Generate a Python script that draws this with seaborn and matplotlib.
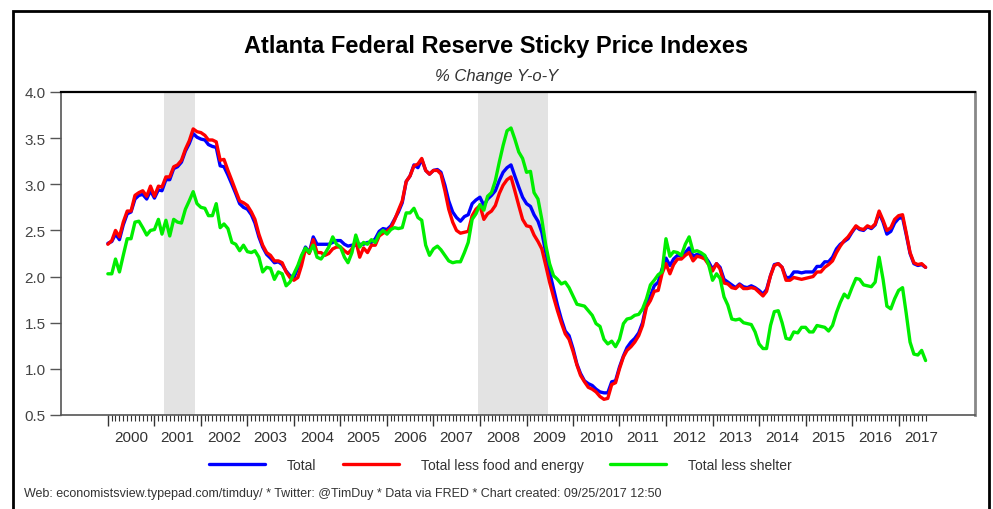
import numpy as np
import pandas as pd
import matplotlib
matplotlib.use("Agg")
import matplotlib.pyplot as plt
from matplotlib.patches import Rectangle
import seaborn as sns

# Monthly y/y % change, Jan 2000 - Aug 2017
total = [
    2.36, 2.38, 2.46, 2.40, 2.56, 2.68, 2.70, 2.84, 2.88, 2.89, 2.84, 2.93,
    2.85, 2.94, 2.93, 3.05, 3.05, 3.17, 3.19, 3.24, 3.36, 3.44, 3.55, 3.51,
    3.49, 3.48, 3.43, 3.41, 3.40, 3.20, 3.19, 3.10, 3.00, 2.90, 2.79, 2.75,
    2.73, 2.67, 2.58, 2.43, 2.32, 2.24, 2.20, 2.15, 2.16, 2.13, 2.06, 2.01,
    1.99, 2.09, 2.21, 2.32, 2.26, 2.43, 2.35, 2.35, 2.35, 2.35, 2.37, 2.39,
    2.39, 2.35, 2.33, 2.34, 2.34, 2.35, 2.35, 2.37, 2.37, 2.41, 2.49, 2.52,
    2.51, 2.55, 2.62, 2.70, 2.80, 3.03, 3.09, 3.21, 3.18, 3.27, 3.15, 3.11,
    3.15, 3.16, 3.13, 2.99, 2.82, 2.70, 2.64, 2.60, 2.65, 2.67, 2.79, 2.83,
    2.86, 2.77, 2.84, 2.88, 2.93, 3.04, 3.13, 3.18, 3.21, 3.09, 2.97, 2.86,
    2.79, 2.76, 2.67, 2.60, 2.48, 2.26, 2.05, 1.87, 1.69, 1.54, 1.41, 1.36,
    1.22, 1.05, 0.95, 0.87, 0.84, 0.82, 0.78, 0.75, 0.74, 0.74, 0.86, 0.87,
    1.02, 1.14, 1.23, 1.29, 1.33, 1.39, 1.50, 1.70, 1.79, 1.90, 1.94, 2.08,
    2.20, 2.12, 2.19, 2.23, 2.22, 2.26, 2.31, 2.22, 2.24, 2.23, 2.22, 2.16,
    2.08, 2.14, 2.10, 1.97, 1.94, 1.91, 1.88, 1.92, 1.89, 1.88, 1.90, 1.88,
    1.85, 1.81, 1.86, 2.01, 2.13, 2.14, 2.10, 1.99, 1.99, 2.05, 2.05, 2.04,
    2.05, 2.05, 2.05, 2.11, 2.11, 2.16, 2.16, 2.21, 2.30, 2.35, 2.38, 2.41,
    2.48, 2.54, 2.51, 2.50, 2.54, 2.52, 2.56, 2.69, 2.59, 2.46, 2.49, 2.58,
    2.63, 2.64, 2.46, 2.25, 2.14, 2.12, 2.13, 2.10,
]
less_food_energy = [
    2.35, 2.39, 2.50, 2.43, 2.59, 2.71, 2.71, 2.88, 2.91, 2.93, 2.87, 2.98,
    2.87, 2.98, 2.97, 3.08, 3.08, 3.19, 3.21, 3.26, 3.38, 3.47, 3.60, 3.57,
    3.56, 3.53, 3.48, 3.48, 3.46, 3.26, 3.27, 3.15, 3.04, 2.93, 2.82, 2.80,
    2.77, 2.70, 2.62, 2.46, 2.34, 2.26, 2.23, 2.17, 2.17, 2.15, 2.05, 1.99,
    1.96, 1.99, 2.12, 2.30, 2.25, 2.40, 2.26, 2.26, 2.23, 2.25, 2.30, 2.32,
    2.32, 2.28, 2.25, 2.30, 2.39, 2.21, 2.31, 2.26, 2.34, 2.34, 2.44, 2.47,
    2.49, 2.53, 2.61, 2.72, 2.82, 3.03, 3.09, 3.20, 3.22, 3.28, 3.15, 3.11,
    3.15, 3.15, 3.11, 2.93, 2.73, 2.59, 2.50, 2.47, 2.48, 2.49, 2.66, 2.73,
    2.77, 2.62, 2.68, 2.71, 2.77, 2.90, 2.99, 3.05, 3.08, 2.93, 2.77, 2.62,
    2.55, 2.54, 2.45, 2.38, 2.30, 2.12, 1.94, 1.78, 1.63, 1.50, 1.38, 1.32,
    1.19, 1.04, 0.93, 0.86, 0.80, 0.78, 0.75, 0.70, 0.67, 0.68, 0.83, 0.85,
    1.00, 1.13, 1.20, 1.24, 1.29, 1.36, 1.47, 1.67, 1.74, 1.84, 1.85, 2.03,
    2.14, 2.03, 2.13, 2.19, 2.19, 2.23, 2.26, 2.17, 2.22, 2.21, 2.19, 2.13,
    2.06, 2.14, 2.08, 1.93, 1.92, 1.88, 1.87, 1.91, 1.87, 1.87, 1.88, 1.87,
    1.83, 1.79, 1.84, 2.01, 2.12, 2.14, 2.10, 1.96, 1.96, 1.99, 1.98, 1.97,
    1.98, 1.99, 2.00, 2.05, 2.05, 2.10, 2.13, 2.17, 2.26, 2.33, 2.39, 2.43,
    2.49, 2.55, 2.52, 2.51, 2.55, 2.53, 2.57, 2.71, 2.61, 2.50, 2.53, 2.62,
    2.66, 2.67, 2.48, 2.26, 2.15, 2.13, 2.14, 2.10,
]
less_shelter = [
    2.03, 2.03, 2.19, 2.05, 2.23, 2.41, 2.41, 2.59, 2.60, 2.53, 2.45, 2.50,
    2.51, 2.62, 2.46, 2.61, 2.44, 2.62, 2.59, 2.58, 2.73, 2.82, 2.92, 2.79,
    2.75, 2.74, 2.66, 2.66, 2.79, 2.53, 2.57, 2.52, 2.37, 2.35, 2.28, 2.34,
    2.27, 2.26, 2.28, 2.21, 2.05, 2.10, 2.09, 1.97, 2.05, 2.03, 1.90, 1.94,
    2.03, 2.12, 2.23, 2.31, 2.26, 2.34, 2.21, 2.19, 2.25, 2.32, 2.43, 2.35,
    2.32, 2.21, 2.15, 2.26, 2.45, 2.32, 2.37, 2.35, 2.40, 2.37, 2.46, 2.50,
    2.46, 2.51, 2.53, 2.52, 2.53, 2.69, 2.69, 2.74, 2.64, 2.61, 2.34, 2.23,
    2.30, 2.33, 2.29, 2.23, 2.17, 2.15, 2.16, 2.16, 2.26, 2.37, 2.62, 2.68,
    2.78, 2.72, 2.87, 2.91, 3.04, 3.24, 3.42, 3.58, 3.61, 3.49, 3.35, 3.28,
    3.13, 3.14, 2.91, 2.84, 2.62, 2.34, 2.14, 2.01, 1.97, 1.92, 1.94, 1.88,
    1.79, 1.70, 1.69, 1.68, 1.63, 1.58, 1.49, 1.46, 1.32, 1.27, 1.30, 1.24,
    1.32, 1.49, 1.54, 1.55, 1.58, 1.59, 1.65, 1.76, 1.91, 1.96, 2.02, 2.05,
    2.41, 2.22, 2.27, 2.26, 2.23, 2.35, 2.43, 2.27, 2.28, 2.26, 2.23, 2.13,
    1.96, 2.03, 1.98, 1.78, 1.69, 1.54, 1.53, 1.54, 1.50, 1.49, 1.48, 1.40,
    1.27, 1.22, 1.22, 1.47, 1.62, 1.63, 1.50, 1.33, 1.32, 1.40, 1.39, 1.45,
    1.45, 1.40, 1.40, 1.47, 1.46, 1.45, 1.41, 1.47, 1.61, 1.72, 1.81, 1.77,
    1.88, 1.98, 1.97, 1.91, 1.90, 1.89, 1.94, 2.21, 1.97, 1.68, 1.65, 1.76,
    1.85, 1.88, 1.61, 1.29, 1.16, 1.15, 1.20, 1.09,
]
series_names = ["Total", "Total less food and energy", "Total less shelter"]
series_colors = ["#0000ff", "#ff0000", "#00ee00"]
recessions = [("2001-03-15", "2001-11-15"), ("2007-12-20", "2009-06-18")]
years = list(range(2000, 2018))

dates = pd.date_range("2000-01-01", periods=len(total), freq="MS")
df = pd.DataFrame({"date": dates, series_names[0]: total,
                   series_names[1]: less_food_energy, series_names[2]: less_shelter})
long_df = df.melt(id_vars="date", var_name="series", value_name="value")

sns.set_style("white")
plt.rcParams["font.family"] = ["Liberation Sans", "DejaVu Sans"]

fig = plt.figure(figsize=(9.93, 5.10), dpi=100)
ax = fig.add_axes([61 / 993, 1 - 416 / 510, 914 / 993, 323 / 510])

for start, end in recessions:
    ax.axvspan(pd.Timestamp(start), pd.Timestamp(end), color="#e3e3e3", lw=0, zorder=0)

sns.lineplot(data=long_df, x="date", y="value", hue="series", hue_order=series_names,
             palette=series_colors, linewidth=2.4, legend=False, ax=ax, zorder=3)

ax.set_xlim(pd.Timestamp("1998-12-29"), pd.Timestamp("2018-08-24"))
ax.set_ylim(0.5, 4.0)
ax.set_yticks(np.arange(0.5, 4.01, 0.5))
ax.set_yticklabels([f"{v:.1f}" for v in np.arange(0.5, 4.01, 0.5)])
ax.set_xlabel("")
ax.set_ylabel("")

# year boundaries (long ticks), monthly minor ticks, labels at mid-year
ax.set_xticks([pd.Timestamp(f"{y}-01-01") for y in years])
ax.set_xticklabels([""] * len(years))
ax.set_xticks(list(dates), minor=True)
ax.tick_params(axis="x", which="major", direction="out", length=8, width=1, color="#333333", bottom=True)
ax.tick_params(axis="x", which="minor", direction="out", length=4, width=0.8, color="#333333", bottom=True)
ax.tick_params(axis="y", direction="out", length=8, width=1, color="#555555", left=True,
               labelsize=11, labelcolor="#444444", pad=3)

sec = ax.secondary_xaxis("bottom")
sec.set_xticks([pd.Timestamp(f"{y}-07-01") for y in years])
sec.set_xticklabels([str(y) for y in years])
sec.tick_params(length=0, labelsize=11, labelcolor="#333333", pad=11)
sec.spines["bottom"].set_visible(False)

ax.spines["top"].set_color("black")
ax.spines["top"].set_linewidth(1.6)
for side in ["left", "bottom"]:
    ax.spines[side].set_color("#555555")
    ax.spines[side].set_linewidth(1.2)
ax.spines["right"].set_color("#888888")
ax.spines["right"].set_linewidth(2)

fig.text(0.5, 1 - 46 / 510, "Atlanta Federal Reserve Sticky Price Indexes",
         ha="center", va="center", fontsize=17, fontweight="bold", color="black")
fig.text(0.5, 1 - 77 / 510, "% Change Y-o-Y", ha="center", va="center",
         fontsize=12, style="italic", color="#333333")

handles = ax.get_lines()[:3]
leg = fig.legend(handles, series_names, loc="center", bbox_to_anchor=(0.504, 1 - 466 / 510),
                 ncol=3, frameon=False, fontsize=10, handlelength=4, handletextpad=1.6,
                 columnspacing=1.9)
for t in leg.get_texts():
    t.set_color("#333333")

fig.text(24 / 993, 1 - 494 / 510,
         "Web: economistsview.typepad.com/timduy/ * Twitter: @TimDuy * Data via FRED * Chart created: 09/25/2017 12:50",
         ha="left", va="center", fontsize=9, color="#333333")

fig.patches.append(Rectangle((13 / 993, -0.05), 976 / 993, 1.05 - 12 / 510, transform=fig.transFigure,
                             fill=False, edgecolor="black", linewidth=2))

fig.savefig("out.png", dpi=100)
